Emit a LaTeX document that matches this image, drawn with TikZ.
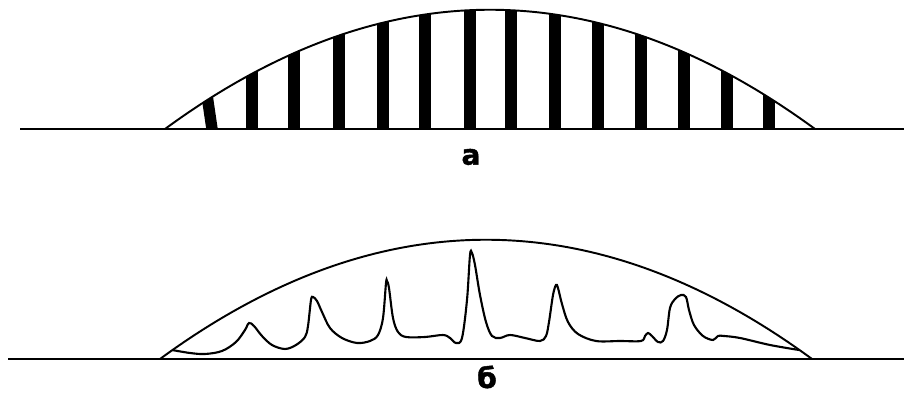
\documentclass[tikz,border=0pt]{standalone}
\usepackage{fontspec}
\newfontfamily\labelfont{DejaVu Sans}[BoldFont={DejaVu Sans Bold}, BoldFeatures={FakeBold=1.6}]
\usetikzlibrary{positioning}

\begin{document}
\begin{tikzpicture}[x=0.02cm, y=-0.02cm, line cap=butt,
      ground/.style={draw, line width=1.3pt},
      dome/.style={draw, line width=1.1pt},
      stripe/.style={line width=6.5pt},
      wave/.style={draw, line width=1.2pt, smooth, tension=0.55},
      letter/.style={font=\labelfont\bfseries\fontsize{16}{16}\selectfont, inner sep=0pt}]
      \useasboundingbox (0,0) rectangle (904,394);

      % top: dome with stripes
      \coordinate (ta) at (165,129);
      \coordinate (tb) at (815,129);
      \draw[ground] (20,129) -- (904,129);
      \begin{scope}
        \clip (ta) .. controls (382,-30) and (598,-30) .. (tb) -- cycle;
        \draw[stripe] (212,129) -- (207,95);
        \foreach \x in {252,294,339,383,425,470,511,555,598,641,684,727,769}
          \draw[stripe] (\x,129) -- (\x,0);
      \end{scope}
      \draw[dome] (ta) .. controls (382,-30) and (598,-30) .. (tb);
      \node (la) [letter] at (471,157) {а};

      % bottom: dome with wavy trace
      \coordinate (ba) at (160,359);
      \coordinate (bb) at (812,359);
      \draw[ground] (8,359) -- (904,359);
      \draw[dome] (ba) .. controls (377,200) and (595,200) .. (bb);
      \draw[wave] plot coordinates {(172,350) (190,353) (205,354) (222,351) (236,342) (245,330)
        (249,323) (254,326) (262,336) (272,345) (285,349) (296,345) (305,337) (308,326)
        (311,300) (313,297) (317,301) (322,312) (330,328) (342,338) (357,343) (370,341)
        (378,335) (383,318) (386,283) (387,281) (389,288) (393,318) (398,332) (406,337)
        (425,337) (443,335) (450,338) (456,343) (462,338) (467,300) (470,255) (472,253)
        (475,265) (480,295) (486,322) (492,336) (500,338) (510,335) (525,338) (540,341)
        (546,336) (549,322) (553,295) (556,285) (558,288) (562,304) (568,322) (578,334)
        (596,341) (620,341) (641,341) (645,336) (648,333) (652,336) (658,342) (663,341)
        (667,330) (670,308) (675,299) (681,295) (686,297) (689,310) (694,325) (703,336)
        (713,340) (718,336) (724,336) (740,338) (770,345) (799,350)};
      \node (lb) [letter] at (487,377) {б};
    \end{tikzpicture}
\end{document}
